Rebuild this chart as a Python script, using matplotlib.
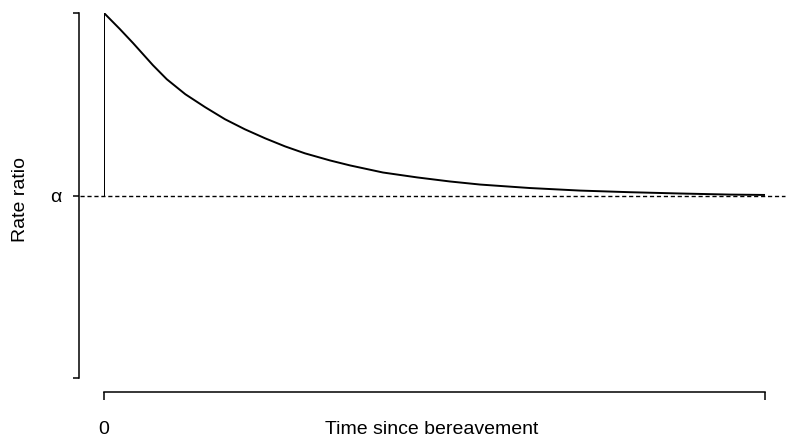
import matplotlib.pyplot as plt

plt.rcParams['font.family'] = ['Liberation Sans', 'DejaVu Sans']

# Werte (Zeit skaliert auf 0..1, alpha = 1)
time = [0.0, 0.0, 0.024, 0.044, 0.074, 0.095, 0.123, 0.153, 0.183, 0.213,
        0.244, 0.274, 0.304, 0.342, 0.372, 0.422, 0.474, 0.523, 0.569,
        0.644, 0.720, 0.796, 0.871, 0.947, 1.0]
ratio = [1.0, 2.0, 1.912, 1.835, 1.714, 1.637, 1.555, 1.484, 1.418, 1.363,
         1.313, 1.269, 1.231, 1.192, 1.165, 1.126, 1.099, 1.077, 1.060,
         1.041, 1.027, 1.018, 1.011, 1.005, 1.003]
alpha_level = 1.0

y_ticks = [0, 1, 2]
y_tick_labels = ['', 'α', '']
x_ticks = [0, 1]
x_tick_labels = ['0', '']

fig = plt.figure(figsize=(7.88, 4.37), dpi=100)
ax = fig.add_axes([104 / 788, 1 - 378 / 437, 661 / 788, 365 / 437])

ax.plot(time, ratio, color='black', lw=1.4)
# Sprung bei t = 0 extra zeichnen, damit er nicht blass wird
ax.vlines(time[0], ratio[0], ratio[1], color='black', lw=1.4)
ax.axhline(alpha_level, xmin=-0.036, xmax=1.03, color='black', lw=1.0,
           linestyle=(0, (3, 2)), clip_on=False)

ax.set_xlim(0, 1)
ax.set_ylim(0, 2)

ax.spines['top'].set_visible(False)
ax.spines['right'].set_visible(False)
ax.spines['left'].set_position(('outward', 18))
ax.spines['bottom'].set_position(('outward', 10))
ax.spines['left'].set_bounds(0, 2)
ax.spines['bottom'].set_bounds(0, 1)
ax.spines['left'].set_linewidth(1.1)
ax.spines['bottom'].set_linewidth(1.1)

ax.set_yticks(y_ticks)
ax.set_yticklabels(y_tick_labels)
ax.set_xticks(x_ticks)
ax.set_xticklabels(x_tick_labels)
ax.tick_params(axis='y', length=4.5, width=1.1, pad=8, labelsize=14)
ax.tick_params(axis='x', length=6, width=1.1, pad=15, labelsize=14)

ax.set_xlabel('Time since bereavement', fontsize=14)
ax.set_ylabel('Rate ratio', fontsize=14)
ax.xaxis.set_label_coords(0.495, -0.14)
ax.xaxis.label.set_va('center')
ax.yaxis.set_label_coords(-0.127, 0.488)
ax.yaxis.label.set_va('center')

fig.savefig('out.png', dpi=100)
